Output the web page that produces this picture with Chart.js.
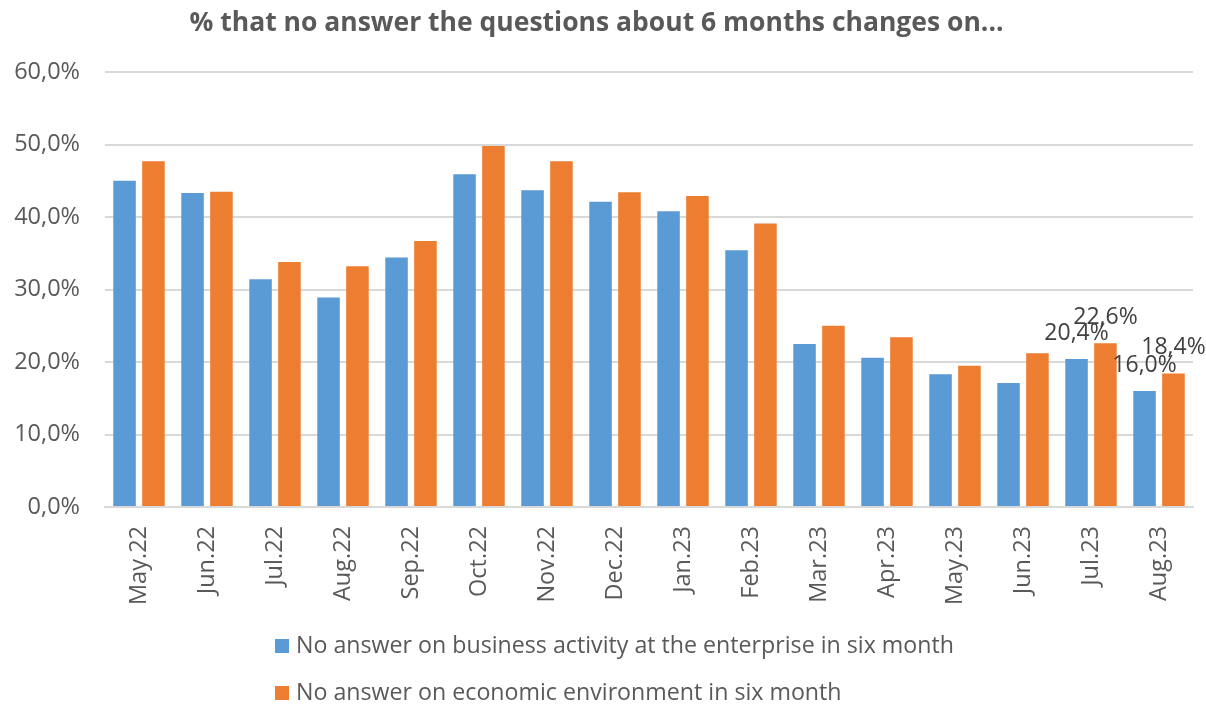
<!DOCTYPE html>
<html>
<head>
<meta charset="utf-8">
<script src="https://cdn.jsdelivr.net/npm/chart.js@4"></script>
<style>
  html, body { margin: 0; padding: 0; background: #fff; }
  #wrap { position: relative; width: 1206px; height: 708px; }
</style>
</head>
<body>
<div id="wrap"><canvas id="noAnswerChart"></canvas></div>
<script>
/* ---- Data ---- */
const months = [
  'May.22', 'Jun.22', 'Jul.22', 'Aug.22', 'Sep.22', 'Oct.22', 'Nov.22', 'Dec.22',
  'Jan.23', 'Feb.23', 'Mar.23', 'Apr.23', 'May.23', 'Jun.23', 'Jul.23', 'Aug.23',
];
const businessActivity = [45.0, 43.3, 31.4, 28.9, 34.4, 45.9, 43.7, 42.1, 40.8, 35.4, 22.5, 20.6, 18.3, 17.1, 20.4, 16.0];
const economicEnvironment = [47.7, 43.5, 33.8, 33.2, 36.7, 49.8, 47.7, 43.4, 42.9, 39.1, 25.0, 23.4, 19.5, 21.2, 22.6, 18.4];
const yTicks = [0, 10, 20, 30, 40, 50, 60];
const labelledMonths = ['Jul.23', 'Aug.23'];

const seriesNames = [
  'No answer on business activity at the enterprise in six month',
  'No answer on economic environment in six month',
];
const BLUE = '#5B9BD5';
const ORANGE = '#ED7D31';
const TEXT = '#595959';
const FONT = "'Open Sans', sans-serif";

const pct = (v) => v.toFixed(1).replace('.', ',') + '%';

/* ---- Value labels above the last months' bars ---- */
const valueLabels = {
  id: 'valueLabels',
  afterDatasetsDraw(chart) {
    const { ctx } = chart;
    ctx.save();
    ctx.font = `23px ${FONT}`;
    ctx.fillStyle = '#404040';
    ctx.textAlign = 'center';
    ctx.textBaseline = 'middle';
    chart.data.datasets.forEach((ds, i) => {
      const meta = chart.getDatasetMeta(i);
      chart.data.labels.forEach((lab, j) => {
        if (!labelledMonths.includes(lab)) return;
        const bar = meta.data[j];
        ctx.fillText(pct(ds.data[j]), bar.x, bar.y - 26);
      });
    });
    ctx.restore();
  },
};

/* ---- Stacked legend, left aligned ---- */
const stackedLegend = {
  id: 'stackedLegend',
  afterDraw(chart) {
    const { ctx } = chart;
    const x0 = 275;
    const rows = [646, 693];
    ctx.save();
    ctx.font = `23.2px ${FONT}`;
    ctx.textBaseline = 'middle';
    chart.data.datasets.forEach((ds, i) => {
      const y = rows[i];
      ctx.fillStyle = ds.backgroundColor;
      ctx.fillRect(x0, y - 7, 14, 14);
      ctx.fillStyle = TEXT;
      ctx.fillText(ds.label, x0 + 21, y);
    });
    ctx.restore();
  },
};

new Chart(document.getElementById('noAnswerChart'), {
  type: 'bar',
  data: {
    labels: months,
    datasets: [
      { label: seriesNames[0], data: businessActivity, backgroundColor: BLUE },
      { label: seriesNames[1], data: economicEnvironment, backgroundColor: ORANGE },
    ],
  },
  options: {
    responsive: true,
    maintainAspectRatio: false,
    animation: false,
    categoryPercentage: 0.85,
    barPercentage: 0.78,
    layout: { padding: { top: 0, right: 13, bottom: 98, left: 0 } },
    plugins: {
      legend: { display: false },
      tooltip: { enabled: false },
      title: {
        display: true,
        text: '% that no answer the questions about 6 months changes on...',
        color: TEXT,
        font: { family: FONT, size: 26.5, weight: 'bold' },
        padding: { top: 8, bottom: 32.2 },
      },
    },
    scales: {
      x: {
        grid: { display: false },
        border: { display: true, color: '#D9D9D9', width: 2 },
        ticks: {
          color: TEXT,
          font: { family: FONT, size: 23.5 },
          maxRotation: 90,
          minRotation: 90,
          padding: 11,
        },
        afterFit(scale) { scale.height = 103; },
      },
      y: {
        min: 0,
        max: 60,
        afterBuildTicks(scale) { scale.ticks = yTicks.map((v) => ({ value: v })); },
        grid: { color: '#D9D9D9', lineWidth: 2, drawTicks: false },
        border: { display: false },
        ticks: {
          color: TEXT,
          font: { family: FONT, size: 23.5 },
          padding: 25,
          callback: (v) => pct(v),
        },
        afterFit(scale) { scale.width = 105; },
      },
    },
  },
  plugins: [valueLabels, stackedLegend],
});
</script>
</body>
</html>
